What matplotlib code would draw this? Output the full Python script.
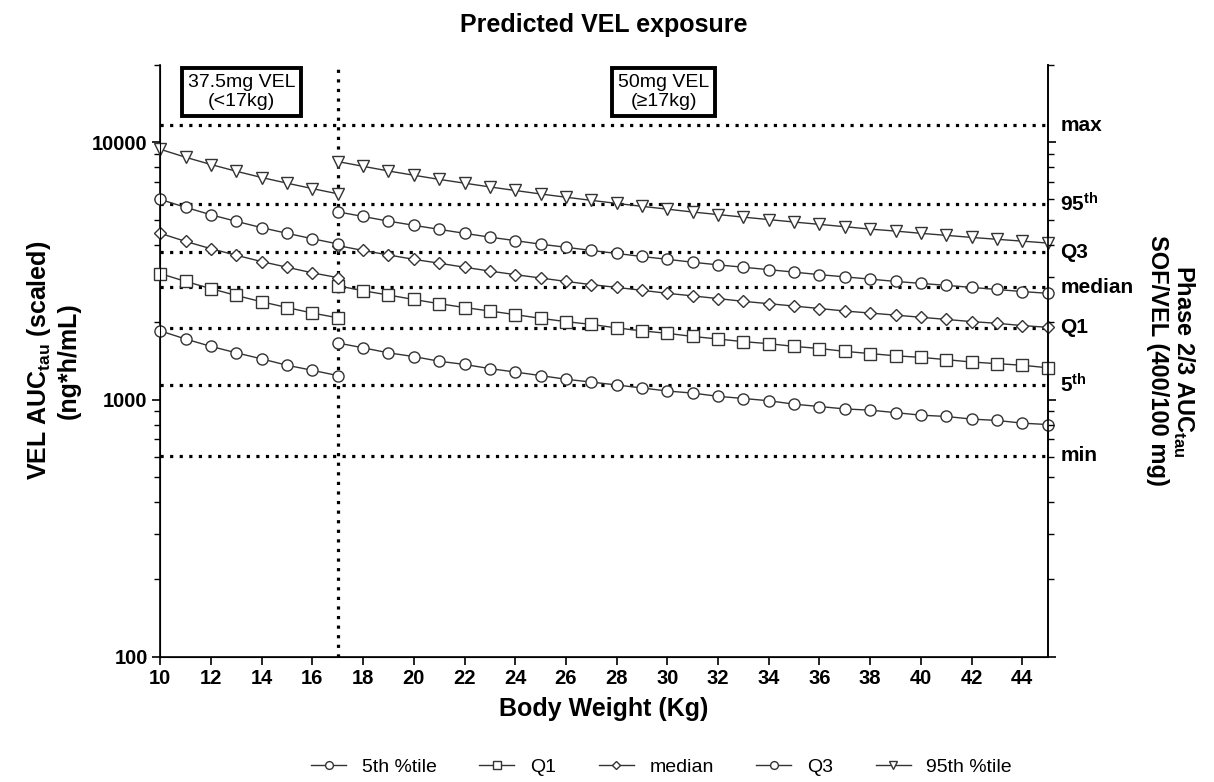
import numpy as np
import matplotlib
matplotlib.use('Agg')
import matplotlib.pyplot as plt
from matplotlib.ticker import LogLocator, NullFormatter, FixedLocator

plt.rcParams['font.family'] = ['Liberation Sans', 'DejaVu Sans']
plt.rcParams['mathtext.fontset'] = 'custom'
plt.rcParams['mathtext.rm'] = 'Liberation Sans'
plt.rcParams['mathtext.bf'] = 'Liberation Sans:bold'
plt.rcParams['mathtext.default'] = 'bf'

# body weight, two dosing segments (37.5 mg below 17 kg, 50 mg from 17 kg)
wt_low = list(range(10, 18))
wt_high = list(range(17, 46))

p95_low = [9400, 8750, 8200, 7720, 7300, 6940, 6610, 6310]
p95_high = [8420, 8070, 7740, 7450, 7180, 6940, 6710, 6500, 6300, 6120, 5950, 5790, 5640,
            5500, 5360, 5240, 5120, 5010, 4900, 4800, 4700, 4600, 4520, 4430, 4350, 4270,
            4200, 4130, 4060]
q3_low = [6000, 5590, 5230, 4930, 4660, 4430, 4220, 4030]
q3_high = [5370, 5150, 4940, 4760, 4590, 4430, 4280, 4150, 4020, 3910, 3800, 3700, 3600,
           3510, 3420, 3340, 3270, 3200, 3130, 3060, 3000, 2940, 2880, 2830, 2780, 2730,
           2680, 2630, 2590]
med_low = [4430, 4120, 3860, 3640, 3440, 3270, 3110, 2980]
med_high = [3970, 3800, 3650, 3510, 3390, 3270, 3160, 3060, 2970, 2880, 2800, 2730, 2660,
            2590, 2530, 2470, 2410, 2360, 2310, 2260, 2210, 2170, 2130, 2090, 2050, 2010,
            1980, 1940, 1910]
q1_low = [3090, 2880, 2700, 2540, 2400, 2280, 2170, 2080]
q1_high = [2770, 2650, 2550, 2450, 2360, 2280, 2210, 2140, 2070, 2010, 1960, 1900, 1850,
           1810, 1760, 1720, 1680, 1650, 1610, 1580, 1540, 1510, 1480, 1460, 1430, 1400,
           1380, 1360, 1330]
p5_low = [1850, 1720, 1610, 1520, 1440, 1360, 1300, 1240]
p5_high = [1660, 1590, 1520, 1470, 1410, 1370, 1320, 1280, 1240, 1200, 1170, 1140, 1110,
           1080, 1060, 1030, 1010, 990, 960, 940, 920, 910, 890, 870, 860, 840, 830, 810, 800]

# adult phase 2/3 reference exposure
ref_names = ['max', '95$^{th}$', 'Q3', 'median', 'Q1', '5$^{th}$', 'min']
ref_values = [11640, 5740, 3735, 2730, 1905, 1143, 606]

series = [
    ('5th %tile', p5_low, p5_high, 'o', 8),
    ('Q1', q1_low, q1_high, 's', 8),
    ('median', med_low, med_high, 'D', 6.5),
    ('Q3', q3_low, q3_high, 'o', 8),
    ('95th %tile', p95_low, p95_high, 'v', 8.5),
]

fig = plt.figure(figsize=(12.14, 7.82), dpi=100)
ax = fig.add_axes([0.132, 0.16, 0.731, 0.757])

dot = (0, (1, 2))
for v in ref_values:
    ax.plot([10, 45], [v, v], color='black', lw=2.3, ls=dot, zorder=1)
ax.plot([17, 17], [100, 20000], color='black', lw=2.3, ls=dot, zorder=1)

col = '#333333'
for name, lo, hi, m, ms in series:
    ax.plot(wt_low, lo, color=col, lw=1, marker=m, ms=ms, mfc='white', mec=col,
            mew=1, label=name, clip_on=False, zorder=3)
    ax.plot(wt_high, hi, color=col, lw=1, marker=m, ms=ms, mfc='white', mec=col,
            mew=1, clip_on=False, zorder=3)

ax.set_yscale('log')
ax.set_ylim(100, 20000)
ax.set_xlim(10, 45)
ax.set_xticks(range(10, 45, 2))
ax.yaxis.set_major_locator(FixedLocator([100, 1000, 10000]))
ax.yaxis.set_minor_locator(LogLocator(base=10, subs=np.arange(2, 10)))
ax.yaxis.set_minor_formatter(NullFormatter())
ax.set_yticklabels(['100', '1000', '10000'])
ax.tick_params(axis='both', which='major', labelsize=14.5, length=6, width=1.2,
               direction='out', pad=3)
ax.tick_params(axis='y', which='minor', length=4, width=1)
for lab in ax.get_xticklabels() + ax.get_yticklabels():
    lab.set_fontweight('bold')
ax.spines['top'].set_visible(False)
for s in ['left', 'bottom', 'right']:
    ax.spines[s].set_linewidth(1.2)

ax2 = ax.twinx()
ax2.set_yscale('log')
ax2.set_ylim(100, 20000)
ax2.yaxis.set_major_locator(FixedLocator([100, 1000, 10000]))
ax2.yaxis.set_minor_locator(LogLocator(base=10, subs=np.arange(2, 10)))
ax2.yaxis.set_major_formatter(NullFormatter())
ax2.yaxis.set_minor_formatter(NullFormatter())
ax2.tick_params(axis='y', which='major', length=6, width=1.2)
ax2.tick_params(axis='y', which='minor', length=4, width=1)
ax2.spines['top'].set_visible(False)
ax2.spines['right'].set_linewidth(1.2)

for name, v in zip(ref_names, ref_values):
    ax.annotate(name, xy=(1.0, v), xycoords=('axes fraction', 'data'), xytext=(9, 0),
                textcoords='offset points', ha='left', va='center', fontsize=15,
                fontweight='bold')

ax.set_title('Predicted VEL exposure', fontsize=18, fontweight='bold', pad=24)
ax.set_xlabel('Body Weight (Kg)', fontsize=18, fontweight='bold', labelpad=6)
ax.set_ylabel('VEL AUC$_{tau}$ (scaled)\n(ng*h/mL)', fontsize=18, fontweight='bold', labelpad=8)
ax2.set_ylabel('Phase 2/3 AUC$_{tau}$\nSOF/VEL (400/100 mg)', fontsize=17, fontweight='bold',
               rotation=270, labelpad=98, linespacing=1.1)

box = dict(boxstyle='square,pad=0.3', fc='white', ec='black', lw=2.8)
ax.text(13.2, 0.954, '37.5mg VEL\n(<17kg)', transform=ax.get_xaxis_transform(), ha='center',
        va='center', fontsize=14, bbox=box, zorder=5, linespacing=1.15)
ax.text(29.85, 0.954, '50mg VEL\n(\u226517kg)', transform=ax.get_xaxis_transform(), ha='center',
        va='center', fontsize=14, bbox=box, zorder=5, linespacing=1.15)

leg = fig.legend(loc='lower center', bbox_to_anchor=(0.545, -0.015), ncol=5, frameon=False,
                 fontsize=14, markerscale=0.7, handlelength=1.8, columnspacing=2.2)

fig.savefig('out.png', dpi=100)
